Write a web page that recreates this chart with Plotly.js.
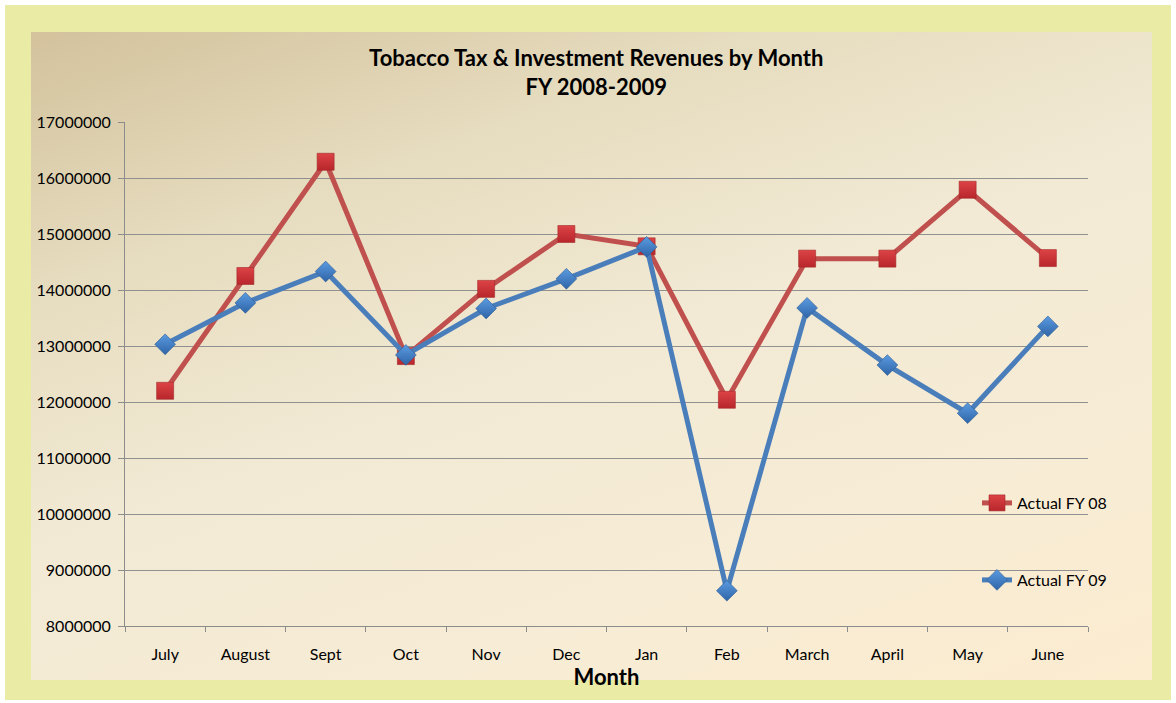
<!DOCTYPE html>
<html><head><meta charset="utf-8">
<script src="https://cdn.plot.ly/plotly-3.0.1.min.js"></script>
<style>
html,body{margin:0;padding:0;background:#fff;width:1176px;height:703px;overflow:hidden;}
#frame{position:absolute;left:5px;top:5px;width:1166px;height:695px;background:#eaeba4;}
#inner{position:absolute;left:31px;top:32px;width:1121px;height:648px;
 background:linear-gradient(160deg,#d3c29c 0%,#e6dcbf 25%,#f2ead5 50%,#f7ecd5 75%,#fcecd0 100%);}
#chart{position:absolute;left:0;top:0;width:1176px;height:703px;}
</style></head><body>
<div id="frame"></div><div id="inner"></div>
<div id="chart"></div>
<script>
const months = ["July","August","Sept","Oct","Nov","Dec","Jan","Feb","March","April","May","June"];
const fy08 = [12200000,14250000,16290000,12820000,14020000,15000000,14780000,12040000,14560000,14560000,15790000,14570000];
const fy09 = [13030000,13770000,14330000,12840000,13670000,14200000,14770000,8630000,13680000,12660000,11800000,13350000];
const yTicks = [8000000,9000000,10000000,11000000,12000000,13000000,14000000,15000000,16000000,17000000];

const font = "Lato, 'Open Sans', 'Liberation Sans', sans-serif";
const traces = [
 {x: months, y: fy08, type:"scatter", mode:"lines+markers", name:"Actual FY 08", legend:"legend",
  line:{color:"#c0504d", width:5},
  marker:{symbol:"square", size:17, color:"#dc4346", line:{color:"#a52a2a", width:0.6},
          gradient:{type:"vertical", color:"#b8262b"}}},
 {x: months, y: fy09, type:"scatter", mode:"lines+markers", name:"Actual FY 09", legend:"legend2",
  line:{color:"#4a7ebb", width:5},
  marker:{symbol:"diamond", size:16, color:"#5b9be0", line:{color:"#2c5a94", width:0.6},
          gradient:{type:"vertical", color:"#2f64a8"}}}
];
const layout = {
 width:1176, height:703,
 paper_bgcolor:"rgba(0,0,0,0)", plot_bgcolor:"rgba(0,0,0,0)",
 margin:{l:125, r:88, t:122, b:77},
 font:{family:font, size:16, color:"#000"},
 title:{text:"<b>Tobacco Tax & Investment Revenues by Month<br>FY 2008-2009</b>",
   font:{family:font, size:22, color:"#000"}, xref:"container", x:0.507, xanchor:"center",
   yref:"container", y:1-66/703, yanchor:"top"},
 xaxis:{type:"category", categoryorder:"array", categoryarray:months, range:[-0.5,11.5], autorange:false,
   showline:true, linecolor:"#8c8c8c", linewidth:1, ticks:"outside", tickson:"boundaries",
   ticklen:5, tickcolor:"#8c8c8c", showgrid:false, tickfont:{size:16}, ticklabelstandoff:14,
   automargin:false,
   title:{text:"<b>Month</b>", font:{size:22}, standoff:0}},
 yaxis:{range:[8000000,17000000], autorange:false, tickvals:yTicks, ticktext:yTicks.map(String),
   showline:true, linecolor:"#8c8c8c", linewidth:1, ticks:"outside", ticklen:6, tickcolor:"#8c8c8c",
   showgrid:true, gridcolor:"#909090", gridwidth:1, zeroline:false, tickfont:{size:16},
   automargin:false, ticklabelstandoff:4},
 legend:{x:(977-125)/963, xref:"paper", y:1-(503-122)/504, yanchor:"middle", xanchor:"left",
   bgcolor:"rgba(0,0,0,0)", font:{size:16}, itemwidth:30},
 legend2:{x:(977-125)/963, xref:"paper", y:1-(580-122)/504, yanchor:"middle", xanchor:"left",
   bgcolor:"rgba(0,0,0,0)", font:{size:16}, itemwidth:30},
 showlegend:true
};
Plotly.newPlot("chart", traces, layout, {displayModeBar:false, staticPlot:true});
</script>
</body></html>
